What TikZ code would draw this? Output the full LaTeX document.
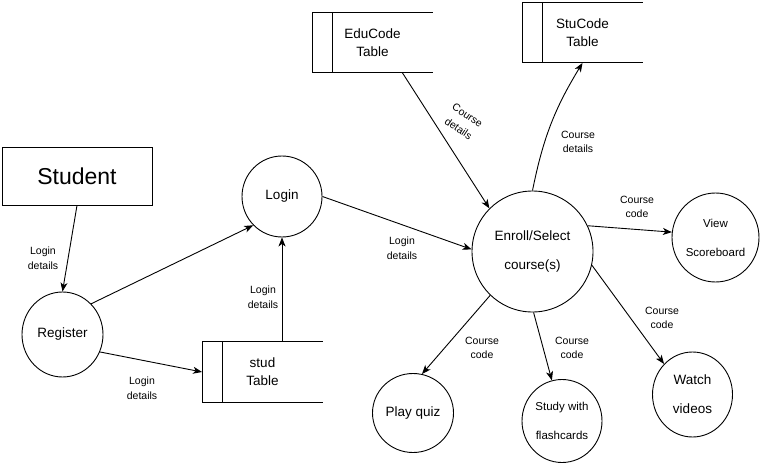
\documentclass[tikz,border=0pt]{standalone}
\usepackage{fontspec}
\setmainfont{Liberation Sans}
\usetikzlibrary{arrows.meta,shapes.geometric}

\begin{document}
\begin{tikzpicture}[x=1pt, y=-1pt, line width=0.9pt,
  proc/.style={ellipse, draw, inner sep=0pt, align=center, font=\fontsize{13.5}{29}\selectfont},
  small/.style={proc, font=\fontsize{11.5}{29}\selectfont},
  tbl/.style={rectangle, minimum width=120pt, minimum height=60pt, inner sep=0pt, align=center, font=\fontsize{13.5}{18}\selectfont},
  lbl/.style={align=center, inner sep=0pt, font=\fontsize{10.5}{14.5}\selectfont},
  flow/.style={-{Stealth[length=9pt,width=7pt,inset=2.5pt]}}]
  \useasboundingbox (0,0) rectangle (765,465);

  % external entity
  \node[draw, minimum width=150pt, minimum height=58pt, inner sep=0pt, font=\fontsize{23}{28}\selectfont] (student) at (77,176) {Student};

  % processes
  \node[proc, minimum width=81pt, minimum height=85pt] (register) at (62.5,334.5) {Register};
  \node[proc, minimum width=80pt, minimum height=81pt] (login) at (282,196.5) {Login};
  \node[proc, minimum width=121pt, minimum height=121pt] (enroll) at (532.5,251.5) {Enroll/Select\\course(s)};
  \node[small, minimum width=87pt, minimum height=89pt] (view) at (715.5,237.5) {View\\Scoreboard};
  \node[proc, minimum width=80pt, minimum height=85pt] (watch) at (692.5,394.5) {Watch\\videos};
  \node[small, minimum width=80pt, minimum height=83pt] (study) at (562,421) {Study with\\flashcards};
  \node[proc, minimum width=81pt, minimum height=79pt] (quiz) at (413,413) {Play quiz};

  % data stores
  \node[tbl] (stud) at (262.5,372) {stud\\Table};
  \node[tbl] (educode) at (372.5,42.5) {EduCode\\Table};
  \node[tbl] (stucode) at (582.5,32.5) {StuCode\\Table};
  \foreach \t in {stud,educode,stucode} {
    \draw (\t.north east) -- (\t.north west) -- (\t.south west) -- (\t.south east);
    \draw ([xshift=20pt]\t.north west) -- ([xshift=20pt]\t.south west);
  }

  % flows
  \draw[flow] (student.south) -- (register.north);
  \draw[flow] (register.47) -- (login.225);
  \draw[flow] (register.-25) -- (stud.west);
  \draw[flow] (login |- stud.north) -- (login.south);
  \draw[flow] (login.east) -- (enroll.178);
  \draw[flow] ([xshift=30pt]educode.south) -- (enroll.135);
  \draw[flow] (enroll.90) to[bend left=10] (stucode.south);
  \draw[flow] (enroll.25) -- (view.173);
  \draw[flow] (enroll.-13) -- (watch.133);
  \draw[flow] (enroll.-89) -- (study.104);
  \draw[flow] (enroll.226) -- (quiz.77);

  % flow labels
  \node[lbl] (l1) at (43,258) {Login\\details};
  \node[lbl] (l2) at (142,388) {Login\\details};
  \node[lbl] (l3) at (263,297) {Login\\details};
  \node[lbl] (l4) at (402,248) {Login\\details};
  \node[lbl, rotate=-34, font=\fontsize{10.5}{16}\selectfont] (l5) at (463,122) {Course\\details};
  \node[lbl] (l6) at (578,142) {Course\\details};
  \node[lbl] (l7) at (637,207) {Course\\code};
  \node[lbl] (l8) at (662,318) {Course\\code};
  \node[lbl] (l9) at (572,348) {Course\\code};
  \node[lbl] (l10) at (482,348) {Course\\code};
\end{tikzpicture}
\end{document}
